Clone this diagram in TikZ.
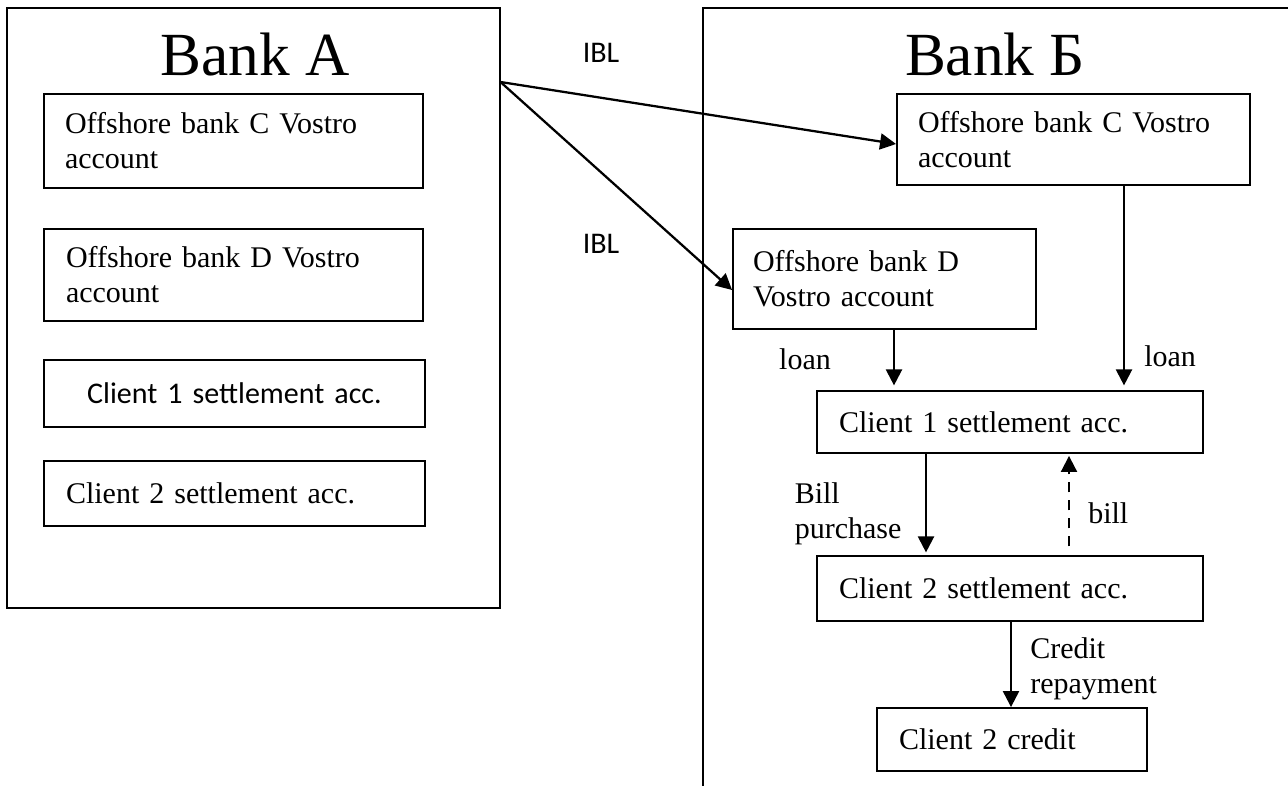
\documentclass[tikz,border=0pt]{standalone}
\usepackage{fontspec}
\setmainfont{Liberation Serif}
\newfontfamily\calib{Carlito}
\usetikzlibrary{arrows.meta}
\tikzset{
  accbox/.style={draw, line width=1.4pt, rectangle, inner ysep=0pt, font=\fontsize{22.5}{26.25}\selectfont},
  frame/.style={draw, line width=1.4pt, rectangle, inner sep=0pt},
  title/.style={font=\fontsize{46}{50}\selectfont, inner sep=0pt, anchor=base},
  lbl/.style={font=\fontsize{22.5}{26.25}\selectfont, inner sep=0pt, align=left},
  ibl/.style={font=\calib\fontsize{22.5}{26.25}\selectfont, inner sep=0pt, anchor=base},
  arr/.style={line width=1.7pt, -{Triangle[length=12pt,width=12pt]}},
}
\newcommand\accbox[8]{%
  \pgfmathsetmacro\bw{(#4-#2)*0.75}%
  \pgfmathsetmacro\bh{(#5-#3)*0.75}%
  \pgfmathsetmacro\tw{(#4-#2-2*#6)*0.75}%
  \pgfmathsetmacro\pd{#6*0.75}%
  \node[accbox, minimum width=\bw pt, minimum height=\bh pt, text width=\tw pt,
        inner xsep=\pd pt, align=#7] (#1) at ({(#2+#4)/2},{(#3+#5)/2}) {#8};%
}
\begin{document}
\begin{tikzpicture}[x=0.75pt,y=-0.75pt]
\useasboundingbox (0,0) rectangle (1288,785);
% Bank A frame
\node[frame, minimum width={493*0.75pt}, minimum height={600*0.75pt}] (bankA) at (253.5,308) {};
\node[title] (tA) at (255,75) {Bank A};
% Bank B frame (open)
\draw[line width=1.4pt] (703,790) -- (703,8) -- (1292,8);
\node[title] (tB) at (995,75) {Bank Б};

% Bank A boxes
\accbox{a1}{44}{94}{423}{188}{21}{left}{Offshore bank C Vostro\\account}
\accbox{a2}{44}{229}{423}{321}{22}{left}{Offshore bank D Vostro\\account}
\accbox{a3}{44}{360}{425}{427}{10}{center}{\calib Client 1 settlement acc.}
\accbox{a4}{44}{461}{425}{526}{22}{left}{Client 2 settlement acc.}

% Bank B boxes
\accbox{b1}{897}{94}{1250}{185}{21}{left}{Offshore bank C Vostro\\account}
\accbox{b2}{733}{229}{1036}{329}{20}{left}{Offshore bank D\\Vostro account}
\accbox{c1}{817}{391}{1203}{453}{22}{left}{Client 1 settlement acc.}
\accbox{c2}{817}{556}{1203}{621}{22}{left}{Client 2 settlement acc.}
\accbox{c3}{877}{708}{1147}{771}{22}{left}{Client 2 credit}

% IBL arrows
\coordinate (ibl) at (500.5,82);
\draw[arr] (ibl) -- (b1.west |- 0,144);
\draw[arr] (ibl) -- (b2.west |- 0,290);
\node[ibl] (ibl1) at (601,62) {IBL};
\node[ibl] (ibl2) at (601,253) {IBL};

% loans
\draw[arr, shorten >=3.5pt] (b2.south -| 894,0) -- (c1.north -| 894,0);
\draw[arr, shorten >=3.5pt] (b1.south -| 1124,0) -- (c1.north -| 1124,0);
\node[lbl, anchor=base] (loan1) at (805,369) {loan};
\node[lbl, anchor=base west] (loan2) at (1144,366) {loan};

% bill purchase / bill
\draw[arr, shorten >=2pt] (c1.south -| 926,0) -- (c2.north -| 926,0);
\node[lbl, anchor=north west] (billp) at (794.5,482) {Bill\\purchase};
\draw[arr, line width=1.5pt, dash pattern=on 7.5pt off 6pt, shorten <=6.5pt, shorten >=1.5pt] (c2.north -| 1069,0) -- (c1.south -| 1069,0);
\node[lbl, anchor=base west] (bill) at (1088,523) {bill};

% credit repayment
\draw[arr] (c2.south -| 1011,0) -- (c3.north -| 1011,0);
\node[lbl, anchor=north west] (credit) at (1030,637) {Credit\\repayment};
\end{tikzpicture}
\end{document}
